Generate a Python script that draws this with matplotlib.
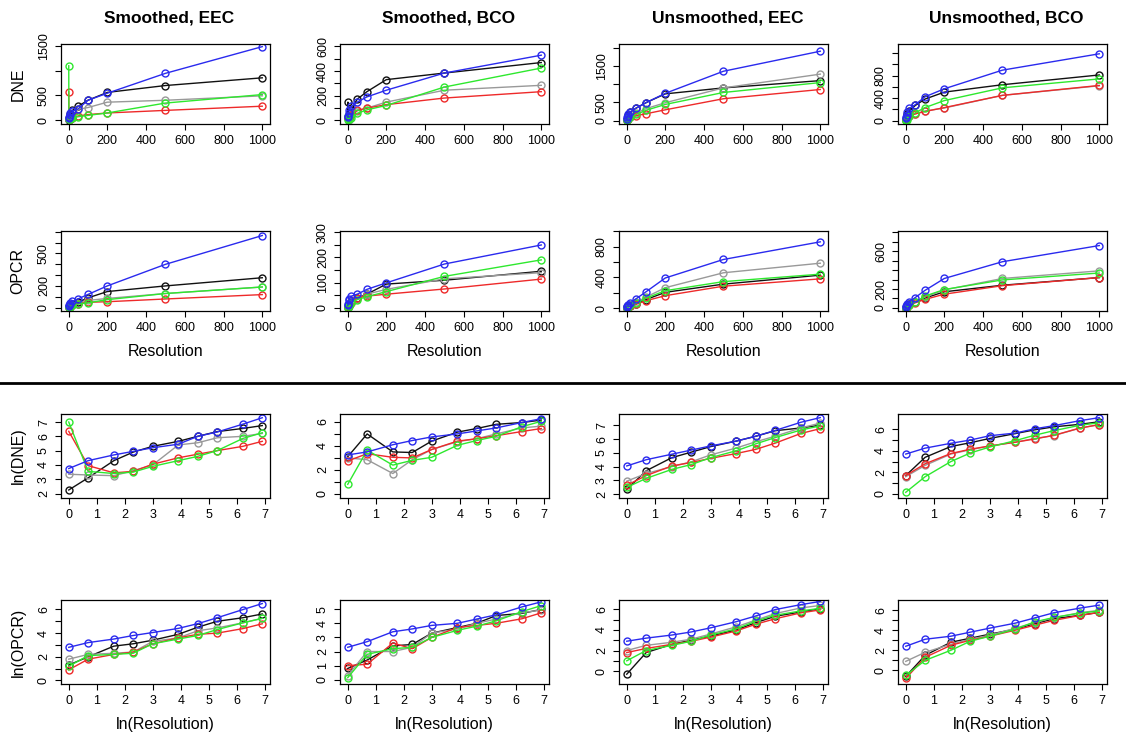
import numpy as np
import matplotlib
matplotlib.use("Agg")
import matplotlib.pyplot as plt
from matplotlib.lines import Line2D

plt.rcParams["font.family"] = ["Liberation Sans", "DejaVu Sans"]

RESOLUTION = [1, 2, 5, 10, 20, 50, 100, 200, 500, 1000]
TITLES = ["Smoothed, EEC", "Smoothed, BCO", "Unsmoothed, EEC", "Unsmoothed, BCO"]
COLORS = {"black": "#111111", "gray": "#999999", "red": "#ee2a2a",
          "green": "#2ee82e", "blue": "#2a2aee"}

# ln(DNE) (upper panels show the same values unlogged)
ln_dne_sm_eec = {
    "black": [2.25, 3.1, 4.3, 4.9, 5.3, 5.65, 6.0, 6.33, 6.55, 6.75],
    "gray":  [3.35, 3.3, 3.25, 3.6, 4.0, 5.4, 5.55, 5.9, 6.0, 6.2],
    "red":   [6.35, 3.95, 3.45, 3.55, 4.05, 4.5, 4.75, 5.0, 5.3, 5.65],
    "green": [7.0, 3.55, 3.4, 3.5, 3.9, 4.3, 4.6, 5.0, 5.85, 6.25],
    "blue":  [3.75, 4.3, 4.7, 4.95, 5.2, 5.45, 6.0, 6.3, 6.85, 7.3],
}
ln_dne_sm_bco = {
    "black": [3.1, 5.0, 3.5, 3.45, 4.4, 5.15, 5.45, 5.8, 5.95, 6.15],
    "gray":  [3.0, 2.85, 1.7, 2.85, 3.7, 4.35, 4.6, 5.0, 5.5, 5.65],
    "red":   [2.75, 3.35, 3.05, 3.0, 3.7, 4.4, 4.6, 4.85, 5.2, 5.45],
    "green": [0.8, 3.65, 2.4, 2.8, 3.05, 4.05, 4.45, 4.8, 5.6, 6.05],
    "blue":  [3.25, 3.5, 4.1, 4.45, 4.75, 5.0, 5.25, 5.5, 5.95, 6.27],
}
ln_dne_un_eec = {
    "black": [2.35, 3.7, 4.65, 5.05, 5.45, 5.85, 6.2, 6.6, 6.8, 7.0],
    "gray":  [2.95, 3.5, 4.0, 4.35, 4.85, 5.35, 5.8, 6.2, 6.8, 7.15],
    "red":   [2.65, 3.35, 4.05, 4.3, 4.6, 4.95, 5.25, 5.7, 6.4, 6.75],
    "green": [2.5, 3.15, 3.8, 4.15, 4.65, 5.15, 5.65, 6.1, 6.65, 6.95],
    "blue":  [4.05, 4.5, 4.9, 5.2, 5.5, 5.85, 6.2, 6.62, 7.21, 7.55],
}
ln_dne_un_bco = {
    "black": [1.7, 3.4, 4.4, 4.75, 5.15, 5.6, 5.95, 6.23, 6.46, 6.7],
    "gray":  [1.6, 2.65, 3.7, 4.1, 4.45, 4.8, 5.15, 5.42, 6.11, 6.43],
    "red":   [1.7, 2.8, 3.75, 4.15, 4.45, 4.8, 5.1, 5.45, 6.11, 6.44],
    "green": [0.15, 1.6, 3.0, 3.8, 4.35, 4.95, 5.45, 5.88, 6.37, 6.61],
    "blue":  [3.7, 4.25, 4.7, 5.0, 5.4, 5.65, 6.05, 6.34, 6.8, 7.08],
}

# ln(OPCR)
ln_opcr_sm_eec = {
    "black": [1.3, 2.0, 2.9, 3.1, 3.4, 3.9, 4.5, 5.0, 5.3, 5.62],
    "gray":  [1.8, 2.2, 2.3, 2.4, 3.3, 3.6, 4.2, 4.44, 4.87, 5.25],
    "red":   [0.9, 1.8, 2.2, 2.4, 3.1, 3.6, 3.9, 4.0, 4.38, 4.79],
    "green": [1.2, 2.1, 2.2, 2.3, 3.1, 3.5, 3.8, 4.3, 4.87, 5.25],
    "blue":  [2.8, 3.2, 3.5, 3.8, 4.05, 4.4, 4.8, 5.3, 5.99, 6.5],
}
ln_opcr_sm_bco = {
    "black": [0.8, 1.4, 2.4, 2.5, 3.3, 3.7, 4.0, 4.55, 4.7, 4.98],
    "gray":  [0.3, 2.0, 2.0, 2.3, 3.3, 3.6, 4.0, 4.3, 4.75, 4.94],
    "red":   [1.0, 1.1, 2.6, 2.2, 3.0, 3.7, 3.85, 4.0, 4.32, 4.74],
    "green": [0.15, 1.8, 2.2, 2.3, 3.0, 3.5, 3.8, 4.17, 4.83, 5.25],
    "blue":  [2.3, 2.7, 3.4, 3.6, 3.85, 4.0, 4.3, 4.6, 5.16, 5.52],
}
ln_opcr_un_eec = {
    "black": [-0.3, 1.8, 2.6, 3.0, 3.4, 4.0, 4.7, 5.32, 5.74, 6.06],
    "gray":  [2.0, 2.5, 2.8, 3.1, 3.6, 4.3, 4.95, 5.58, 6.13, 6.37],
    "red":   [1.8, 2.2, 2.6, 2.9, 3.3, 3.9, 4.55, 5.08, 5.65, 5.94],
    "green": [1.0, 2.0, 2.5, 2.9, 3.5, 4.1, 4.85, 5.42, 5.84, 6.09],
    "blue":  [2.9, 3.2, 3.5, 3.8, 4.2, 4.8, 5.35, 5.97, 6.45, 6.76],
}
ln_opcr_un_bco = {
    "black": [-0.6, 1.5, 2.8, 3.2, 3.6, 4.1, 4.65, 5.14, 5.48, 5.77],
    "gray":  [0.9, 1.8, 2.6, 3.1, 3.5, 4.2, 4.75, 5.25, 5.74, 5.97],
    "red":   [-0.8, 1.3, 2.5, 3.0, 3.4, 4.0, 4.5, 4.98, 5.46, 5.77],
    "green": [-0.5, 1.0, 2.0, 2.9, 3.4, 4.1, 4.83, 5.27, 5.69, 5.91],
    "blue":  [2.4, 3.1, 3.4, 3.8, 4.2, 4.7, 5.22, 5.74, 6.19, 6.49],
}

LN_DNE = [ln_dne_sm_eec, ln_dne_sm_bco, ln_dne_un_eec, ln_dne_un_bco]
LN_OPCR = [ln_opcr_sm_eec, ln_opcr_sm_bco, ln_opcr_un_eec, ln_opcr_un_bco]

# y ticks and which labels are printed (R drops the crowded ones)
DNE_TICKS = [[0, 500, 1000, 1500], [0, 100, 200, 300, 400, 500, 600],
             [0, 500, 1000, 1500, 2000], [0, 200, 400, 600, 800, 1000, 1200]]
DNE_LABELS = [["0", "500", "", "1500"], ["0", "", "200", "", "400", "", "600"],
              ["0", "500", "", "1500", ""], ["0", "", "400", "", "800", "", ""]]
OPCR_TICKS = [[0, 100, 200, 300, 400, 500, 600, 700], [0, 50, 100, 150, 200, 250, 300],
              [0, 200, 400, 600, 800, 1000], [0, 100, 200, 300, 400, 500, 600, 700, 800]]
OPCR_LABELS = [["0", "", "200", "", "", "500", "", ""], ["0", "", "100", "", "200", "", "300"],
               ["0", "", "400", "", "800", ""], ["0", "", "200", "", "", "", "600", "", ""]]
LNDNE_TICKS = [[2, 3, 4, 5, 6, 7], [0, 1, 2, 3, 4, 5, 6], [2, 3, 4, 5, 6, 7], [0, 1, 2, 3, 4, 5, 6]]
LNDNE_LABELS = [["2", "3", "4", "5", "6", "7"], ["0", "", "2", "", "4", "", "6"],
                ["2", "3", "4", "5", "6", "7"], ["0", "", "2", "", "4", "", "6"]]
LNOPCR_TICKS = [[0, 1, 2, 3, 4, 5, 6], [0, 1, 2, 3, 4, 5], [0, 1, 2, 3, 4, 5, 6], [0, 1, 2, 3, 4, 5, 6]]
LNOPCR_LABELS = [["0", "", "2", "", "4", "", "6"], ["0", "1", "2", "3", "4", "5"],
                 ["0", "", "2", "", "4", "", "6"], ["0", "", "2", "", "4", "", "6"]]

DNE_YLIM = [(-73, 1533), (-29, 619), (-89, 2098), (-58, 1362)]
OPCR_YLIM = [(-31, 707), (-12, 305), (-39, 1004), (-32, 812)]
LNDNE_YLIM = [(1.69, 7.56), (-0.34, 6.66), (1.73, 7.81), (-0.38, 7.42)]
LNOPCR_YLIM = [(-0.3, 6.8), (-0.3, 5.65), (-1.25, 6.9), (-1.35, 7.0)]

W, H = 1126, 732
LEFTS = [61, 340, 619, 898]
AX_W = 209
ROW_BOX = [(44, 124), (231, 311), (414, 498), (600, 684)]


def draw(ax, x, series, ylim, ticks, labels, xticks):
    for name, y in series.items():
        ax.plot(x, y, "-o", color=COLORS[name], lw=1.0, ms=5, mfc="none", mew=1.0)
    ax.margins(x=0.04)
    ax.set_ylim(*ylim)
    ax.set_yticks(ticks)
    ax.set_yticklabels(labels, rotation=90, va="center")
    ax.set_xticks(xticks)
    ax.tick_params(direction="out", length=4, width=0.8, labelsize=9, pad=4)
    for s in ax.spines.values():
        s.set_linewidth(0.9)


fig = plt.figure(figsize=(W / 100, H / 100), dpi=100)
res = np.array(RESOLUTION, dtype=float)
lnres = np.log(res)

for c in range(4):
    axes = []
    for r, (top, bot) in enumerate(ROW_BOX):
        ax = fig.add_axes([LEFTS[c] / W, 1 - bot / H, AX_W / W, (bot - top) / H])
        axes.append(ax)
    dne = {k: np.exp(v) for k, v in LN_DNE[c].items()}
    opcr = {k: np.exp(v) for k, v in LN_OPCR[c].items()}
    draw(axes[0], res, dne, DNE_YLIM[c], DNE_TICKS[c], DNE_LABELS[c], range(0, 1001, 200))
    draw(axes[1], res, opcr, OPCR_YLIM[c], OPCR_TICKS[c], OPCR_LABELS[c], range(0, 1001, 200))
    draw(axes[2], lnres, LN_DNE[c], LNDNE_YLIM[c], LNDNE_TICKS[c], LNDNE_LABELS[c], range(0, 8))
    draw(axes[3], lnres, LN_OPCR[c], LNOPCR_YLIM[c], LNOPCR_TICKS[c], LNOPCR_LABELS[c], range(0, 8))
    axes[1].set_xlabel("Resolution", fontsize=11.5, labelpad=7)
    axes[3].set_xlabel("ln(Resolution)", fontsize=11.5, labelpad=7)
    if c == 0:
        for ax, lab in zip(axes, ["DNE", "OPCR", "ln(DNE)", "ln(OPCR)"]):
            ax.set_ylabel(lab, fontsize=11.5, labelpad=9)
    fig.text((LEFTS[c] + AX_W / 2 + 4) / W, 1 - 18 / H, TITLES[c],
             fontsize=12.5, fontweight="bold", ha="center", va="center")

fig.add_artist(Line2D([0, 1], [1 - 383 / H, 1 - 383 / H], color="black", lw=2))

fig.savefig("out.png", dpi=100)
